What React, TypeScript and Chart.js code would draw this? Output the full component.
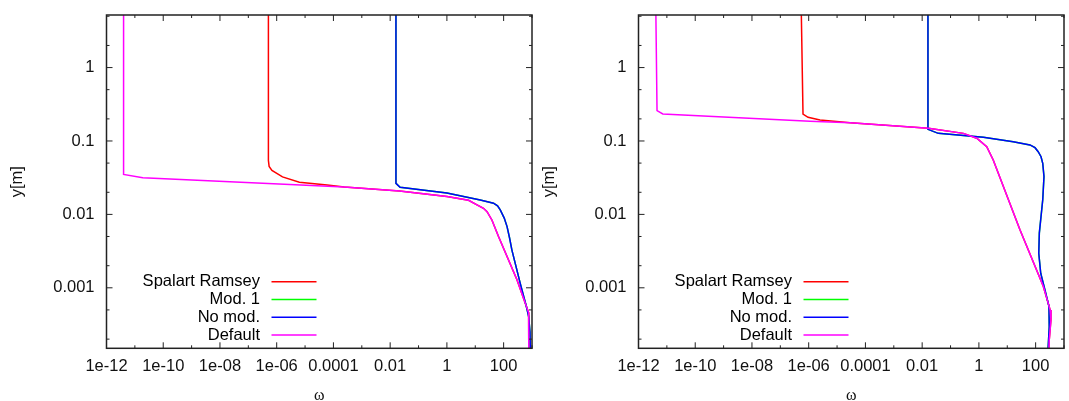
import React, { useEffect, useRef } from "react";
import { Chart, registerables } from "chart.js";
Chart.register(...registerables);

// ---------- axes ----------
const X_MIN = 1e-12;
const X_MAX = 1e3;
const Y_MIN = 1.5e-4;
const Y_MAX = 5.2;
const xTickValues = [1e-12, 1e-10, 1e-8, 1e-6, 1e-4, 1e-2, 1, 100];
const xTickLabels = ["1e-12", "1e-10", "1e-08", "1e-06", "0.0001", "0.01", "1", "100"];
const xMinorTicks = [1e-11, 1e-9, 1e-7, 1e-5, 1e-3, 0.1, 10, 1000];
const yTickValues = [0.001, 0.01, 0.1, 1];
const yTickLabels = ["0.001", "0.01", "0.1", "1"];
const yMinorTicks = [2e-4, 5e-4, 2e-3, 5e-3, 0.02, 0.05, 0.2, 0.5, 2, 5];
const xTitle = "ω";
const yTitle = "y[m]";

// ---------- series ----------
const seriesNames = ["Spalart Ramsey", "Mod. 1", "No mod.", "Default"];
const seriesColors = ["#ff0000", "#00ff00", "#0000ff", "#ff00ff"];

// left panel
const leftSpalartX = [5.1e-7, 5.1e-7, 5.4e-7, 6.8e-7, 1.6e-6, 6.3e-6, 6.0e-5, 2.4e-4, 0.0214, 1.0, 5.8, 11.5, 19.5, 26, 38.6, 66, 295, 575, 760, 776, 760];
const leftSpalartY = [5.3, 0.0543, 0.045, 0.0398, 0.0324, 0.0275, 0.0251, 0.0236, 0.0208, 0.0175, 0.0156, 0.0135, 0.0121, 0.0109, 0.0084, 0.005, 0.00129, 6.2e-4, 4.6e-4, 2.5e-4, 1.5e-4];
const leftMod1X = [0.016, 0.016, 0.0224, 1.0, 15, 44, 61, 76, 105, 132, 162, 195, 385, 630, 760, 850, 870];
const leftMod1Y = [5.3, 0.0265, 0.0234, 0.0195, 0.0157, 0.0142, 0.01305, 0.0115, 0.0089, 0.00682, 0.00477, 0.00329, 0.00115, 5.6e-4, 4.1e-4, 2.5e-4, 1.5e-4];
const leftNoModX = [0.016, 0.016, 0.0224, 1.0, 15, 44, 61, 76, 105, 132, 162, 195, 385, 630, 760, 850, 870];
const leftNoModY = [5.3, 0.0265, 0.0234, 0.0195, 0.0157, 0.0142, 0.01305, 0.0115, 0.0089, 0.00682, 0.00477, 0.00329, 0.00115, 5.6e-4, 4.1e-4, 2.5e-4, 1.5e-4];
const leftDefaultX = [4.0e-12, 4.0e-12, 1.9e-11, 2.4e-4, 0.0214, 1.0, 5.8, 11.5, 19.5, 26, 38.6, 66, 295, 575, 760, 776, 760];
const leftDefaultY = [5.3, 0.035, 0.0316, 0.0236, 0.0208, 0.0175, 0.0156, 0.0135, 0.0121, 0.0109, 0.0084, 0.005, 0.00129, 6.2e-4, 4.6e-4, 2.5e-4, 1.5e-4];

// right panel
const rightSpalartX = [5.5e-7, 6.3e-7, 9.5e-7, 2.5e-6, 2.9e-5, 0.0166, 0.283, 0.84, 1.89, 3.2, 28, 186, 324, 347, 302, 295];
const rightSpalartY = [5.3, 0.233, 0.21, 0.193, 0.177, 0.149, 0.127, 0.109, 0.0838, 0.055, 0.00617, 0.00105, 5.0e-4, 3.67e-4, 1.95e-4, 1.5e-4];
const rightMod1X = [0.016, 0.016, 0.037, 1.44, 16.2, 63, 95, 123, 155, 178, 197, 178, 135, 129, 151, 214, 295, 302, 275];
const rightMod1Y = [5.3, 0.144, 0.127, 0.112, 0.0977, 0.0883, 0.081, 0.0714, 0.061, 0.0497, 0.0327, 0.0158, 0.00555, 0.00295, 0.00158, 9.3e-4, 5.6e-4, 2.95e-4, 1.5e-4];
const rightNoModX = [0.016, 0.016, 0.037, 1.44, 16.2, 63, 95, 123, 155, 178, 197, 178, 135, 129, 151, 214, 295, 302, 275];
const rightNoModY = [5.3, 0.144, 0.127, 0.112, 0.0977, 0.0883, 0.081, 0.0714, 0.061, 0.0497, 0.0327, 0.0158, 0.00555, 0.00295, 0.00158, 9.3e-4, 5.6e-4, 2.95e-4, 1.5e-4];
const rightDefaultX = [4.1e-12, 4.5e-12, 7.2e-12, 1.1e-6, 2.9e-5, 0.0166, 0.283, 0.84, 1.89, 3.2, 28, 186, 324, 347, 302, 295];
const rightDefaultY = [5.3, 0.259, 0.233, 0.185, 0.177, 0.149, 0.127, 0.109, 0.0838, 0.055, 0.00617, 0.00105, 5.0e-4, 3.67e-4, 1.95e-4, 1.5e-4];

const FONT = "'Liberation Sans', Arial, sans-serif";
const FONT_SIZE = 16.5;

const zip = (xs: number[], ys: number[]) => xs.map((x, i) => ({ x, y: ys[i] }));

const gnuplotFrame = {
  id: "gnuplotFrame",
  afterDatasetsDraw(chart: any) {
    const { ctx, chartArea: a, scales } = chart;
    const xs = scales.x;
    const ys = scales.y;
    ctx.save();
    ctx.strokeStyle = "#222";
    ctx.lineWidth = 1;
    const xt = (v: number, len: number) => {
      const p = xs.getPixelForValue(v);
      if (p < a.left - 0.5 || p > a.right + 0.5) return;
      ctx.beginPath();
      ctx.moveTo(p, a.bottom);
      ctx.lineTo(p, a.bottom - len);
      ctx.moveTo(p, a.top);
      ctx.lineTo(p, a.top + len);
      ctx.stroke();
    };
    const yt = (v: number, len: number) => {
      const p = ys.getPixelForValue(v);
      if (p < a.top - 0.5 || p > a.bottom + 0.5) return;
      ctx.beginPath();
      ctx.moveTo(a.left, p);
      ctx.lineTo(a.left + len, p);
      ctx.moveTo(a.right, p);
      ctx.lineTo(a.right - len, p);
      ctx.stroke();
    };
    xTickValues.forEach((v) => xt(v, 6));
    xMinorTicks.forEach((v) => xt(v, 3));
    yTickValues.forEach((v) => yt(v, 6));
    yMinorTicks.forEach((v) => yt(v, 3));
    ctx.lineWidth = 1.5;
    ctx.strokeRect(a.left, a.top, a.right - a.left, a.bottom - a.top);

    // gnuplot-style key
    ctx.font = `${FONT_SIZE}px ${FONT}`;
    ctx.textAlign = "right";
    ctx.textBaseline = "middle";
    ctx.fillStyle = "#000";
    const textRight = a.left + 153.5;
    const lineL = a.left + 165;
    const lineR = a.left + 210;
    const y0 = a.bottom - 66.6;
    seriesNames.forEach((name, i) => {
      const y = y0 + i * 17.8;
      ctx.fillText(name, textRight, y);
      ctx.strokeStyle = seriesColors[i];
      ctx.lineWidth = 1.5;
      ctx.beginPath();
      ctx.moveTo(lineL, y);
      ctx.lineTo(lineR, y);
      ctx.stroke();
    });
    ctx.restore();
  },
};

type PanelProps = {
  left: number;
  width: number;
  series: { x: number[]; y: number[] }[];
};

function Panel({ left, width, series }: PanelProps) {
  const ref = useRef<HTMLCanvasElement>(null);
  useEffect(() => {
    const chart = new Chart(ref.current!, {
      type: "scatter",
      data: {
        datasets: series.map((s, i) => ({
          label: seriesNames[i],
          data: zip(s.x, s.y),
          showLine: true,
          borderColor: seriesColors[i],
          backgroundColor: seriesColors[i],
          borderWidth: 1.5,
          pointRadius: 0,
          tension: 0,
          order: 3 - i,
        })),
      },
      options: {
        animation: false,
        responsive: false,
        devicePixelRatio: 1,
        layout: { padding: { top: 15, right: width - 532, left: 0, bottom: 0 } },
        plugins: { legend: { display: false }, tooltip: { enabled: false } },
        scales: {
          x: {
            type: "logarithmic",
            min: X_MIN,
            max: X_MAX,
            bounds: "data",
            grid: { display: false, drawTicks: false },
            border: { display: false },
            afterBuildTicks: (scale: any) => {
              scale.ticks = xTickValues.map((v) => ({ value: v }));
            },
            afterFit: (scale: any) => {
              scale.height = 52.7;
              scale.paddingLeft = 0;
              scale.paddingRight = 0;
            },
            ticks: {
              autoSkip: false,
              maxRotation: 0,
              padding: 8.5,
              color: "#111",
              font: { family: FONT, size: FONT_SIZE },
              callback: (_v: any, i: number) => xTickLabels[i],
            },
            title: {
              display: true,
              text: xTitle,
              color: "#111",
              font: { family: "'Liberation Serif', 'DejaVu Serif', serif", size: 16 },
              padding: { top: 0, bottom: -4 },
            },
          },
          y: {
            type: "logarithmic",
            min: Y_MIN,
            max: Y_MAX,
            bounds: "data",
            grid: { display: false, drawTicks: false },
            border: { display: false },
            afterBuildTicks: (scale: any) => {
              scale.ticks = yTickValues.map((v) => ({ value: v }));
            },
            afterFit: (scale: any) => {
              scale.width = 106.5;
              scale.paddingTop = 0;
              scale.paddingBottom = 0;
            },
            ticks: {
              autoSkip: false,
              padding: 12,
              color: "#111",
              font: { family: FONT, size: FONT_SIZE },
              callback: (_v: any, i: number) => yTickLabels[i],
            },
            title: {
              display: true,
              text: yTitle,
              color: "#111",
              font: { family: FONT, size: FONT_SIZE },
              padding: { top: 8, bottom: 0 },
            },
          },
        },
      } as any,
      plugins: [gnuplotFrame],
    });
    return () => chart.destroy();
  }, []);
  return (
    <canvas
      ref={ref}
      width={width}
      height={401}
      style={{ position: "absolute", left, top: 0, width, height: 401, display: "block" }}
    />
  );
}

export default function App() {
  const leftSeries = [
    { x: leftSpalartX, y: leftSpalartY },
    { x: leftMod1X, y: leftMod1Y },
    { x: leftNoModX, y: leftNoModY },
    { x: leftDefaultX, y: leftDefaultY },
  ];
  const rightSeries = [
    { x: rightSpalartX, y: rightSpalartY },
    { x: rightMod1X, y: rightMod1Y },
    { x: rightNoModX, y: rightNoModY },
    { x: rightDefaultX, y: rightDefaultY },
  ];
  return (
    <div style={{ position: "absolute", left: 0, top: 0, width: 1069, height: 401, background: "#fff" }}>
      <Panel left={0} width={540} series={leftSeries} />
      <Panel left={532} width={537} series={rightSeries} />
    </div>
  );
}
